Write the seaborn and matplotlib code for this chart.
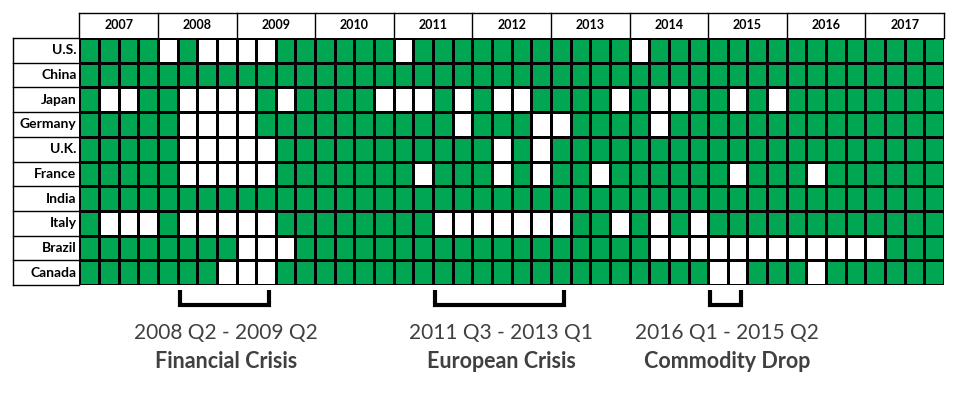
import numpy as np
import pandas as pd
import matplotlib
matplotlib.use("Agg")
import matplotlib.pyplot as plt
import seaborn as sns
from matplotlib.colors import ListedColormap

years = list(range(2007, 2018))
countries = ["U.S.", "China", "Japan", "Germany", "U.K.", "France", "India", "Italy", "Brazil", "Canada"]

# quarters shown as white (no growth) for each country
us_down = ["2008Q1", "2008Q3", "2008Q4", "2009Q1", "2009Q2", "2011Q1", "2014Q1"]
china_down = []
japan_down = ["2007Q2", "2007Q3", "2008Q2", "2008Q3", "2008Q4", "2009Q1", "2009Q3", "2010Q4",
              "2011Q1", "2011Q2", "2011Q4", "2012Q2", "2012Q3", "2013Q4", "2014Q2", "2014Q3",
              "2015Q2", "2015Q4"]
germany_down = ["2008Q2", "2008Q3", "2008Q4", "2009Q1", "2011Q4", "2012Q4", "2013Q1", "2014Q2"]
uk_down = ["2008Q2", "2008Q3", "2008Q4", "2009Q1", "2009Q2", "2012Q2", "2012Q4"]
france_down = ["2008Q2", "2008Q3", "2008Q4", "2009Q1", "2009Q2", "2011Q2", "2012Q2", "2012Q4",
               "2013Q3", "2015Q2", "2016Q2"]
india_down = []
italy_down = ["2007Q2", "2007Q3", "2007Q4", "2008Q2", "2008Q3", "2008Q4", "2009Q1", "2009Q2",
              "2011Q3", "2011Q4", "2012Q1", "2012Q2", "2012Q3", "2012Q4", "2013Q1", "2013Q4",
              "2014Q2", "2014Q4"]
brazil_down = ["2009Q1", "2009Q2", "2009Q3", "2014Q2", "2014Q3", "2014Q4", "2015Q1", "2015Q2",
               "2015Q3", "2015Q4", "2016Q1", "2016Q2", "2016Q3", "2016Q4", "2017Q1"]
canada_down = ["2008Q4", "2009Q1", "2009Q2", "2015Q1", "2015Q2", "2016Q2"]

down_lists = [us_down, china_down, japan_down, germany_down, uk_down,
              france_down, india_down, italy_down, brazil_down, canada_down]

# crisis periods: first quarter, last quarter, range text, name
period_start = ["2008Q2", "2011Q3", "2015Q1"]
period_end = ["2009Q2", "2013Q1", "2015Q2"]
period_text = ["2008 Q2 - 2009 Q2", "2011 Q3 - 2013 Q1", "2016 Q1 - 2015 Q2"]
period_name = ["Financial Crisis", "European Crisis", "Commodity Drop"]

GREEN = "#00a651"
GREY = "#404040"

plt.rcParams["font.family"] = ["Lato", "DejaVu Sans"]

quarters = [f"{y}Q{q}" for y in years for q in range(1, 5)]
df = pd.DataFrame(1, index=countries, columns=quarters)
for c, downs in zip(countries, down_lists):
    if downs:
        df.loc[c, downs] = 0

fig = plt.figure(figsize=(9.72, 3.95), dpi=100)
ax = fig.add_axes([79.3 / 972, 110 / 395, (944 - 79.3) / 972, 247 / 395])

sns.heatmap(df, cmap=ListedColormap(["white", GREEN]), vmin=0, vmax=1, cbar=False,
            linewidths=1, linecolor="black", xticklabels=False, yticklabels=True, ax=ax)
ax.set_xlabel("")
ax.set_ylabel("")
ax.tick_params(axis="y", length=0, pad=2)
for lab in ax.get_yticklabels():
    lab.set_rotation(0)
    lab.set_fontweight("bold")
    lab.set_fontsize(10)

n = len(quarters)
# year header
top = -1.02
ax.plot([0, n], [top, top], color="black", lw=1, clip_on=False)
for i, y in enumerate(years):
    ax.text(i * 4 + 2, top / 2, str(y), ha="center", va="center",
            fontsize=9, fontweight="bold", clip_on=False)
for i in range(len(years) + 1):
    ax.plot([i * 4, i * 4], [top, 0], color="black", lw=1, clip_on=False)

# row label column borders
left = -3.37
for r in range(len(countries) + 1):
    ax.plot([left, 0], [r, r], color="black", lw=1, clip_on=False)
ax.plot([left, left], [0, len(countries)], color="black", lw=1, clip_on=False)

# crisis brackets
for s, e, t, nm in zip(period_start, period_end, period_text, period_name):
    x0 = quarters.index(s) + 0.1
    x1 = quarters.index(e) + 0.65
    ax.plot([x0, x0, x1, x1], [10.2, 10.8, 10.8, 10.2], color="black", lw=3,
            clip_on=False, solid_joinstyle="miter", solid_capstyle="butt")
    xc = (x0 + x1) / 2 + 0.1
    ax.text(xc, 11.94, t, ha="center", va="center", fontsize=15, color=GREY, clip_on=False)
    ax.text(xc, 13.08, nm, ha="center", va="center", fontsize=15.5, fontweight="bold",
            color=GREY, clip_on=False)

fig.savefig("out.png", dpi=100)
